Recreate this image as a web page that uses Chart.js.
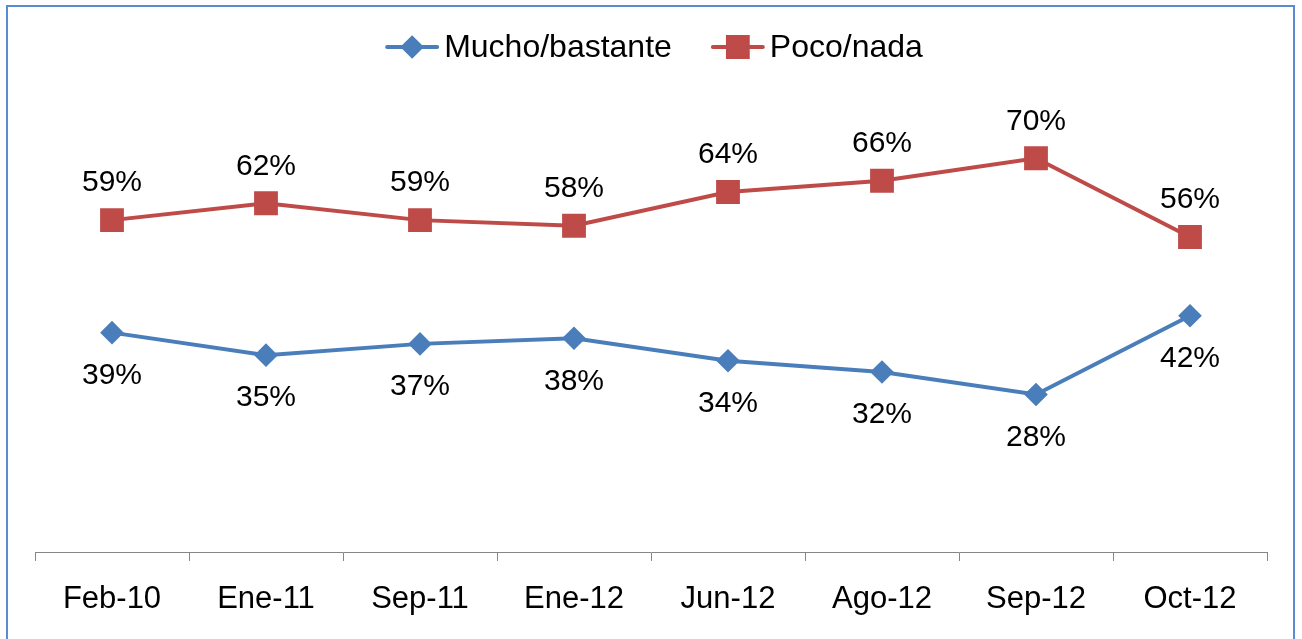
<!DOCTYPE html>
<html>
<head>
<meta charset="utf-8">
<script src="https://cdn.jsdelivr.net/npm/chart.js@4.4.1/dist/chart.umd.min.js"></script>
<style>
  html, body { margin: 0; padding: 0; background: #ffffff; overflow: hidden; }
  #wrap { position: relative; width: 1302px; height: 639px; }
  #c { position: absolute; left: 0; top: 0; }
  #frame { position: absolute; left: 6px; top: 5px; width: 1289px; height: 700px;
           border: 2px solid #5b8bd0; box-sizing: border-box; pointer-events: none; }
</style>
</head>
<body>
<div id="wrap">
  <canvas id="c" width="1302" height="639"></canvas>
  <div id="frame"></div>
</div>
<script>
const categories = ['Feb-10', 'Ene-11', 'Sep-11', 'Ene-12', 'Jun-12', 'Ago-12', 'Sep-12', 'Oct-12'];
const seriesNames = ['Mucho/bastante', 'Poco/nada'];
const muchoBastante = [39, 35, 37, 38, 34, 32, 28, 42];
const pocoNada = [59, 62, 59, 58, 64, 66, 70, 56];

const BLUE = '#4a7ebb';
const RED = '#be4b48';
const FONT = '"Liberation Sans", Arial, sans-serif';

const dataLabels = {
  id: 'dataLabels',
  afterDatasetsDraw(chart) {
    const ctx = chart.ctx;
    ctx.save();
    ctx.font = '30px ' + FONT;
    ctx.fillStyle = '#000000';
    ctx.textAlign = 'center';
    ctx.textBaseline = 'middle';
    chart.data.datasets.forEach((ds, i) => {
      const meta = chart.getDatasetMeta(i);
      const off = ds.labelOffset;
      meta.data.forEach((pt, j) => {
        ctx.fillText(ds.data[j] + '%', pt.x, pt.y + off);
      });
    });
    ctx.restore();
  }
};

const customLegend = {
  id: 'customLegend',
  afterDraw(chart) {
    const ctx = chart.ctx;
    ctx.save();
    ctx.font = '32px ' + FONT;
    const lineLen = 50, gapText = 7, gapItem = 41;
    const items = chart.data.datasets.map(ds => ({ ds, w: ctx.measureText(ds.label).width }));
    let total = 0;
    items.forEach((it, k) => { total += lineLen + gapText + it.w + (k ? gapItem : 0); });
    let x = chart.width / 2 + 4 - total / 2;
    const y = 47;
    items.forEach((it, k) => {
      if (k) x += gapItem;
      const ds = it.ds;
      ctx.strokeStyle = ds.borderColor;
      ctx.lineWidth = 4;
      ctx.lineCap = 'round';
      ctx.beginPath();
      ctx.moveTo(x, y);
      ctx.lineTo(x + lineLen, y);
      ctx.stroke();
      Chart.helpers.drawPoint(ctx, {
        pointStyle: ds.pointStyle, radius: ds.pointRadius, rotation: 0, borderWidth: 1
      }, x + lineLen / 2, y);
      ctx.fillStyle = ds.borderColor;
      ctx.fill();
      ctx.fillStyle = '#000000';
      ctx.textAlign = 'left';
      ctx.textBaseline = 'middle';
      ctx.fillText(ds.label, x + lineLen + gapText, y + 1);
      x += lineLen + gapText + it.w;
    });
    ctx.restore();
  }
};

new Chart(document.getElementById('c'), {
  type: 'line',
  data: {
    labels: categories,
    datasets: [
      {
        label: seriesNames[0], data: muchoBastante,
        borderColor: BLUE, backgroundColor: BLUE,
        pointBackgroundColor: BLUE, pointBorderColor: BLUE,
        pointStyle: 'rectRot', pointRadius: 9, pointHoverRadius: 9,
        borderWidth: 4, tension: 0, labelOffset: 43
      },
      {
        label: seriesNames[1], data: pocoNada,
        borderColor: RED, backgroundColor: RED,
        pointBackgroundColor: RED, pointBorderColor: RED,
        pointStyle: 'rect', pointRadius: 14, pointHoverRadius: 14,
        borderWidth: 4, tension: 0, labelOffset: -37
      }
    ]
  },
  options: {
    responsive: false,
    animation: false,
    events: [],
    layout: { padding: { left: 35, right: 35, top: 102, bottom: 0 } },
    plugins: { legend: { display: false }, tooltip: { enabled: false } },
    scales: {
      y: { display: false, min: 0, max: 80 },
      x: {
        offset: true,
        afterFit(scale) { scale.height = 87; },
        grid: {
          offset: true, drawOnChartArea: false, drawTicks: true,
          tickLength: 9, color: '#868686', lineWidth: 1
        },
        border: { display: true, color: '#868686', width: 1 },
        ticks: {
          color: '#000000', padding: 20, maxRotation: 0, autoSkip: false,
          font: { family: FONT, size: 31 }
        }
      }
    }
  },
  plugins: [dataLabels, customLegend]
});
</script>
</body>
</html>
